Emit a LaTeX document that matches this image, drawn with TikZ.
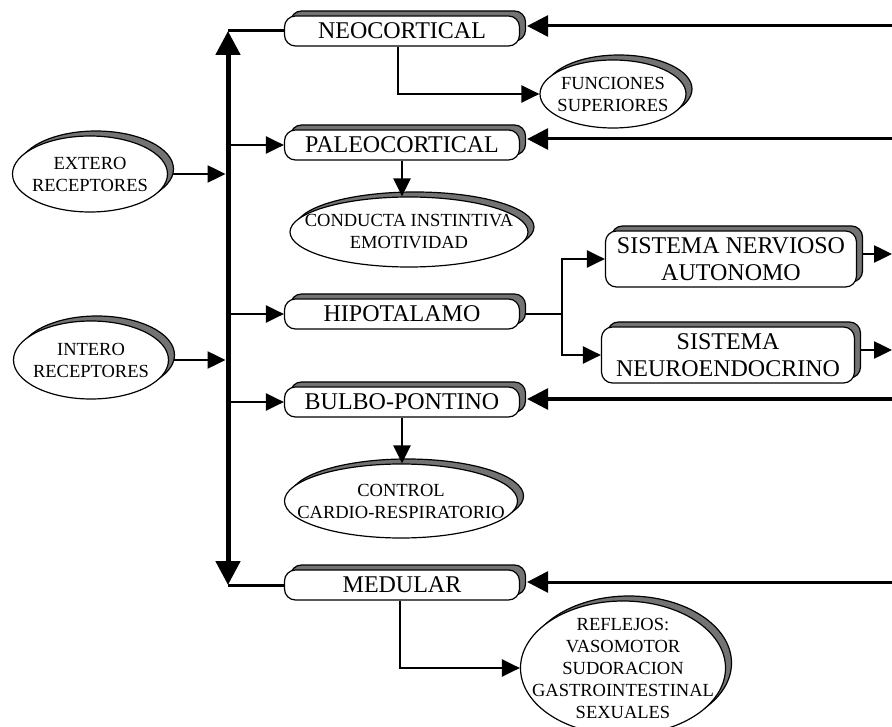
\documentclass[tikz,border=0pt]{standalone}
\usepackage{fontspec}
\setmainfont{Liberation Serif}
\usetikzlibrary{arrows.meta,shapes.geometric,shadows,patterns,calc}
\begin{document}
\begin{tikzpicture}[x=1pt,y=-1pt,
  shd/.style={general shadow={shadow xshift=6pt,shadow yshift=5pt,fill=black!55,draw=black,line width=1.2pt}},
  box/.style={shd,draw=black,line width=1.2pt,fill=white,rounded corners=11pt,inner sep=0pt,align=center,
    font=\fontsize{24}{27}\selectfont},
  oval/.style={shd,ellipse,draw=black,line width=1.2pt,fill=white,inner sep=-40pt,align=center,
    font=\fontsize{18.5}{22}\selectfont},
  midarr/.style={line width=2.5pt,-{Triangle[length=18pt,width=17pt]}},
  inarr/.style={line width=3pt,-{Triangle[length=21pt,width=21pt]}},
  plain/.style={line width=2.5pt}]
\useasboundingbox (0,0) rectangle (892,727);

% boxes
\node[box,minimum width=235pt,minimum height=30pt] (neo) at (402,31) {NEOCORTICAL};
\node[box,minimum width=235pt,minimum height=30pt] (pal) at (402,145) {PALEOCORTICAL};
\node[box,minimum width=235pt,minimum height=30pt] (hip) at (402,314) {HIPOTALAMO};
\node[box,minimum width=235pt,minimum height=30pt] (bul) at (402,402) {BULBO-PONTINO};
\node[box,minimum width=235pt,minimum height=30pt] (med) at (402,585) {MEDULAR};
\node[box,minimum width=251pt,minimum height=56pt] (sna) at (731,259) {SISTEMA NERVIOSO\\AUTONOMO};
\node[box,minimum width=253pt,minimum height=56pt] (sne) at (728,355) {SISTEMA\\NEUROENDOCRINO};

% ovals
\node[oval,minimum width=146pt,minimum height=68pt] (fun) at (613,94) {FUNCIONES\\SUPERIORES};
\node[oval,minimum width=238pt,minimum height=70pt] (con) at (409,232) {CONDUCTA INSTINTIVA\\EMOTIVIDAD};
\node[oval,minimum width=155pt,minimum height=76pt] (ext) at (90,174) {EXTERO\\RECEPTORES};
\node[oval,minimum width=155pt,minimum height=78pt] (int) at (91,360) {INTERO\\RECEPTORES};
\node[oval,minimum width=233pt,minimum height=74pt] (ctl) at (401,501) {CONTROL\\CARDIO-RESPIRATORIO};
\node[oval,minimum width=205pt,minimum height=134pt] (ref) at (623,668) {REFLEJOS:\\VASOMOTOR\\SUDORACION\\GASTROINTESTINAL\\SEXUALES};

% bus
\coordinate (btop) at (228,31);
\coordinate (bbot) at (228,585);
\draw[line width=5pt,{Triangle[length=24pt,width=24pt]}-{Triangle[length=24pt,width=24pt]}] (btop) -- (bbot);
\draw[line width=3pt] (btop) -- (neo.west);
\draw[line width=3pt] (bbot) -- (med.west);

% inputs to bus
\draw[midarr,shorten >=2.5pt] ($(ext.east)+(5,0)$) -- (ext.east -| btop);
\draw[midarr,shorten >=2.5pt] ($(int.east)+(5,0)$) -- (int.east -| btop);

% bus to boxes
\draw[midarr,shorten <=-2.5pt] (btop |- pal.west) -- (pal.west);
\draw[midarr,shorten <=-2.5pt] (btop |- hip.west) -- (hip.west);
\draw[midarr,shorten <=-2.5pt] (btop |- bul.west) -- (bul.west);

% outputs of boxes
\draw[plain,-{Triangle[length=18pt,width=17pt]}] ([xshift=-4pt]neo.south) |- (fun.west);
\draw[midarr] (pal.south) -- (pal.south |- con.north);
\draw[midarr] (bul.south) -- (bul.south |- ctl.north);
\draw[plain,-{Triangle[length=18pt,width=17pt]}] ([xshift=-2pt]med.south) |- (ref.west);

% hypothalamus branches
\coordinate (split) at (562,314);
\draw[plain] ($(hip.east)+(6,0)$) -- (split);
\draw[midarr] (split) |- (sna.west);
\draw[midarr] (split) |- (sne.west);

% incoming from right
\coordinate (rneo) at (892,26);
\coordinate (rpal) at (892,139);
\coordinate (rbul) at (892,399);
\coordinate (rmed) at (892,582);
\draw[inarr] (rneo) -- ($(rneo -| neo.east)+(7,0)$);
\draw[inarr] (rpal) -- ($(rpal -| pal.east)+(7,0)$);
\draw[inarr] (rbul) -- ($(rbul -| bul.east)+(7,0)$);
\draw[inarr] (rmed) -- ($(rmed -| med.east)+(7,0)$);

% outgoing to right
\coordinate (osna) at (892,254);
\coordinate (osne) at (892,350);
\draw[midarr] ($(osna -| sna.east)+(6,0)$) -- (osna);
\draw[midarr] ($(osne -| sne.east)+(6,0)$) -- (osne);
\end{tikzpicture}
\end{document}
